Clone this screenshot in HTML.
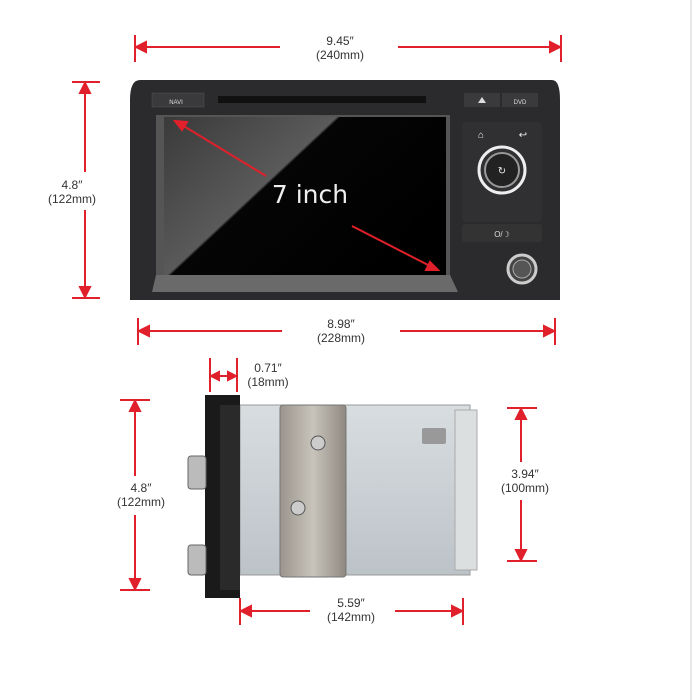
<!DOCTYPE html>
<html><head><style>
body{margin:0;width:696px;height:700px;background:#fff;position:relative;overflow:hidden;font-family:"Liberation Sans",sans-serif}
.a{position:absolute}
.t{position:absolute;font-size:12px;color:#333;text-align:center;line-height:14px;transform:translateX(-50%)}
</style></head><body>
<div class="a" style="left:690px;top:0;width:2px;height:700px;background:#e8e8e8"></div>
<svg class="a" style="left:0;top:0" width="696" height="700">
<defs>
<linearGradient id="scr" x1="0" y1="0" x2="1" y2="0.6">
<stop offset="0" stop-color="#3a3a3a"/><stop offset="0.45" stop-color="#5a5a5a"/><stop offset="0.46" stop-color="#050505"/><stop offset="1" stop-color="#000"/></linearGradient>
<linearGradient id="ch" x1="0" y1="0" x2="0" y2="1"><stop offset="0" stop-color="#d8dde0"/><stop offset="1" stop-color="#bcc3c8"/></linearGradient>
<linearGradient id="br" x1="0" y1="0" x2="1" y2="0"><stop offset="0" stop-color="#9a948c"/><stop offset="0.5" stop-color="#c8c4bc"/><stop offset="1" stop-color="#8e8880"/></linearGradient>
</defs>
<!-- front unit -->
<path d="M140,80 L552,80 Q560,80 560,100 L560,300 L130,300 L130,100 Q130,80 140,80Z" fill="#2b2b2d"/>
<rect x="152" y="93" width="52" height="14" fill="#3a3a3c" stroke="#555" stroke-width="0.5"/>
<text x="176" y="104" fill="#ddd" font-size="6" text-anchor="middle" font-family="Liberation Sans">NAVI</text>
<rect x="218" y="96" width="208" height="7" fill="#111"/>
<rect x="464" y="93" width="36" height="14" fill="#3a3a3c"/><rect x="502" y="93" width="36" height="14" fill="#3a3a3c"/>
<text x="520" y="104" fill="#ddd" font-size="6" text-anchor="middle">DVD</text>
<path d="M478,103 l4,-6 l4,6z" fill="#ddd"/>
<path d="M156,115 L450,115 L450,290 L156,290Z" fill="#555"/>
<rect x="164" y="117" width="282" height="158" fill="url(#scr)"/>
<path d="M156,275 L450,275 L458,292 L152,292Z" fill="#6a6a6a"/>
<text x="310" y="203" fill="#eee" font-size="25" text-anchor="middle" font-family="DejaVu Sans">7 inch</text>
<g stroke="#e0202a" stroke-width="2" fill="#e0202a">
<line x1="266" y1="176" x2="182" y2="125"/><path d="M175,121 l12,1 l-5,8z"/>
<line x1="352" y1="226" x2="430" y2="266"/><path d="M438,270 l-12,0 l4,-8z"/>
</g>
<rect x="462" y="122" width="80" height="100" rx="4" fill="#303033"/>
<rect x="462" y="224" width="80" height="18" rx="3" fill="#333"/>
<text x="502" y="237" fill="#ddd" font-size="8" text-anchor="middle">O/☽</text>
<circle cx="502" cy="170" r="23" fill="none" stroke="#eee" stroke-width="3"/>
<circle cx="502" cy="170" r="17" fill="#222" stroke="#999" stroke-width="2"/>
<text x="502" y="174" fill="#eee" font-size="10" text-anchor="middle">↻</text>
<text x="481" y="138" fill="#eee" font-size="10" text-anchor="middle">⌂</text>
<text x="523" y="138" fill="#eee" font-size="10" text-anchor="middle">↩</text>
<circle cx="522" cy="269" r="14" fill="#444" stroke="#ccc" stroke-width="3"/>
<circle cx="522" cy="269" r="9" fill="#555" stroke="#aaa"/>
<!-- side unit -->
<rect x="240" y="405" width="230" height="170" fill="url(#ch)" stroke="#999"/>
<rect x="455" y="410" width="22" height="160" fill="#dcdfe0" stroke="#aaa"/>
<rect x="280" y="405" width="66" height="172" rx="3" fill="url(#br)" stroke="#777"/>
<circle cx="318" cy="443" r="7" fill="#ccc" stroke="#555"/><circle cx="298" cy="508" r="7" fill="#ccc" stroke="#555"/>
<rect x="422" y="428" width="24" height="16" rx="2" fill="#999"/>
<rect x="205" y="395" width="35" height="203" fill="#1a1a1a"/>
<rect x="220" y="405" width="20" height="185" fill="#2a2a2a"/>
<rect x="188" y="456" width="18" height="33" rx="3" fill="#bbb" stroke="#666"/>
<rect x="188" y="545" width="18" height="30" rx="3" fill="#bbb" stroke="#666"/>
<!-- dimension lines -->
<g stroke="#e0202a" stroke-width="2" fill="#e0202a">
<line x1="135" y1="35" x2="135" y2="62"/><line x1="561" y1="35" x2="561" y2="62"/>
<line x1="138" y1="47" x2="280" y2="47"/><line x1="398" y1="47" x2="558" y2="47"/>
<path d="M136,47 l10,-5 v10z"/><path d="M560,47 l-10,-5 v10z"/>
<line x1="72" y1="82" x2="100" y2="82"/><line x1="72" y1="298" x2="100" y2="298"/>
<line x1="85" y1="84" x2="85" y2="172"/><line x1="85" y1="210" x2="85" y2="296"/>
<path d="M85,83 l-5,10 h10z"/><path d="M85,297 l-5,-10 h10z"/>
<line x1="138" y1="318" x2="138" y2="345"/><line x1="555" y1="318" x2="555" y2="345"/>
<line x1="140" y1="331" x2="282" y2="331"/><line x1="400" y1="331" x2="553" y2="331"/>
<path d="M139,331 l10,-5 v10z"/><path d="M554,331 l-10,-5 v10z"/>
<line x1="210" y1="358" x2="210" y2="392"/><line x1="237" y1="358" x2="237" y2="392"/>
<line x1="211" y1="376" x2="236" y2="376"/><path d="M211,376 l8,-4 v8z"/><path d="M236,376 l-8,-4 v8z"/>
<line x1="120" y1="400" x2="150" y2="400"/><line x1="120" y1="590" x2="150" y2="590"/>
<line x1="135" y1="402" x2="135" y2="476"/><line x1="135" y1="515" x2="135" y2="588"/>
<path d="M135,401 l-5,10 h10z"/><path d="M135,589 l-5,-10 h10z"/>
<line x1="507" y1="408" x2="537" y2="408"/><line x1="507" y1="561" x2="537" y2="561"/>
<line x1="521" y1="410" x2="521" y2="462"/><line x1="521" y1="500" x2="521" y2="559"/>
<path d="M521,409 l-5,10 h10z"/><path d="M521,560 l-5,-10 h10z"/>
<line x1="240" y1="598" x2="240" y2="625"/><line x1="463" y1="598" x2="463" y2="625"/>
<line x1="242" y1="611" x2="310" y2="611"/><line x1="395" y1="611" x2="461" y2="611"/>
<path d="M241,611 l10,-5 v10z"/><path d="M462,611 l-10,-5 v10z"/>
</g>
</svg>
<div class="t" style="left:340px;top:34px">9.45″<br>(240mm)</div>
<div class="t" style="left:72px;top:178px">4.8″<br>(122mm)</div>
<div class="t" style="left:341px;top:317px">8.98″<br>(228mm)</div>
<div class="t" style="left:268px;top:361px">0.71″<br>(18mm)</div>
<div class="t" style="left:141px;top:481px">4.8″<br>(122mm)</div>
<div class="t" style="left:525px;top:467px">3.94″<br>(100mm)</div>
<div class="t" style="left:351px;top:596px">5.59″<br>(142mm)</div>
</body></html>
